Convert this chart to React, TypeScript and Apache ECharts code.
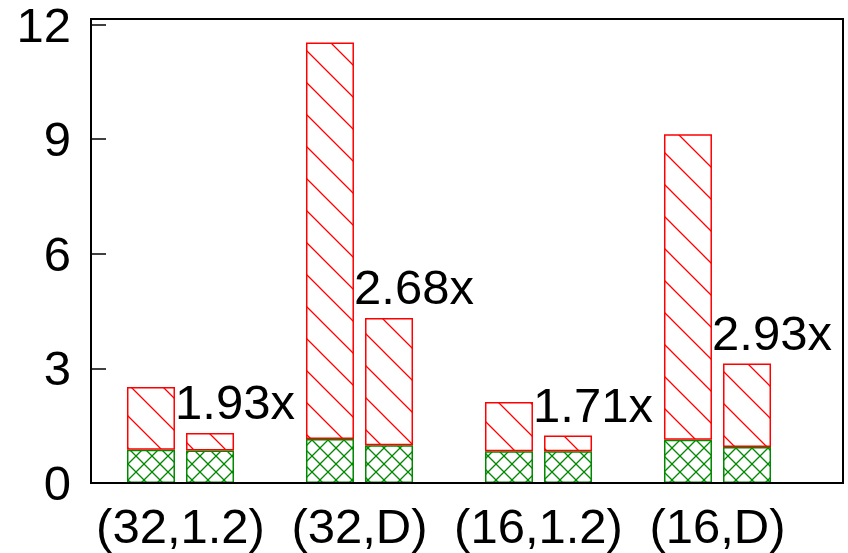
import React, { useEffect, useRef } from "react";
import * as echarts from "echarts";

const categories = ["(32,1.2)", "(32,D)", "(16,1.2)", "(16,D)"];
const baseA = [0.87, 1.15, 0.83, 1.13];
const extraA = [1.64, 10.38, 1.29, 8.0];
const baseB = [0.85, 0.99, 0.83, 0.94];
const extraB = [0.46, 3.33, 0.41, 2.19];
const ratioLabels = ["1.93x", "2.68x", "1.71x", "2.93x"];
const yTicks = { min: 0, max: 12, interval: 3 };

const FONT = "'Liberation Sans', Arial, sans-serif";
const RED = "#ff0000";
const GREEN = "#008800";

function makeDiag(size: number, color: string, cross: boolean, lw: number) {
  const c = document.createElement("canvas");
  c.width = size;
  c.height = size;
  const ctx = c.getContext("2d")!;
  ctx.fillStyle = "#ffffff";
  ctx.fillRect(0, 0, size, size);
  ctx.strokeStyle = color;
  ctx.lineWidth = lw;
  ctx.beginPath();
  ctx.moveTo(-2, -2);
  ctx.lineTo(size + 2, size + 2);
  ctx.moveTo(-2, size - 2);
  ctx.lineTo(2, size + 2);
  ctx.moveTo(size - 2, -2);
  ctx.lineTo(size + 2, 2);
  if (cross) {
    ctx.moveTo(size + 2, -2);
    ctx.lineTo(-2, size + 2);
    ctx.moveTo(2, -2);
    ctx.lineTo(-2, 2);
    ctx.moveTo(size + 2, size - 2);
    ctx.lineTo(size - 2, size + 2);
  }
  ctx.stroke();
  return {
    image: c.toDataURL(),
    repeat: "repeat",
    imageWidth: size,
    imageHeight: size,
  } as any;
}

export default function App() {
  const ref = useRef<HTMLDivElement>(null);
  useEffect(() => {
    if (!ref.current) return;
    document.body.style.overflow = "hidden";
    const chart = echarts.init(ref.current, undefined, { renderer: "svg" });
    const redPat = makeDiag(32, RED, false, 1.3);
    const greenPat = makeDiag(16, GREEN, true, 1.3);

    const greenStyle = { color: greenPat, borderColor: GREEN, borderWidth: 1.5 };
    const redStyle = { color: redPat, borderColor: RED, borderWidth: 1.5 };

    chart.setOption({
      animation: false,
      grid: [
        { left: 91, top: 19, right: 41, bottom: 70, show: false },
        {
          left: 91,
          top: 19,
          right: 5,
          bottom: 70,
          show: true,
          borderColor: "#000",
          borderWidth: 2,
          backgroundColor: "transparent",
          z: 10,
        },
      ],
      xAxis: [
        {
          type: "category",
          gridIndex: 0,
          data: categories,
          axisLine: { show: false },
          axisTick: { show: false },
          axisLabel: {
            fontSize: 49,
            fontFamily: FONT,
            color: "#000",
            margin: 18,
            interval: 0,
          },
        },
        { type: "value", gridIndex: 1, show: false },
      ],
      yAxis: [
        {
          type: "value",
          gridIndex: 0,
          min: yTicks.min,
          max: yTicks.max,
          interval: yTicks.interval,
          axisLine: { show: false },
          axisTick: { show: true, inside: true, length: 15, lineStyle: { color: "#000", width: 1.5 } },
          splitLine: { show: false },
          axisLabel: {
            fontSize: 49,
            fontFamily: FONT,
            color: "#000",
            margin: 20,
            lineHeight: 40,
            padding: [8, 0, 0, 0],
          },
        },
        { type: "value", gridIndex: 1, show: false },
      ],
      series: [
        { type: "bar", stack: "a", data: baseA, barWidth: 48, barGap: "23%", itemStyle: greenStyle },
        { type: "bar", stack: "a", data: extraA, barWidth: 48, itemStyle: redStyle },
        { type: "bar", stack: "b", data: baseB, barWidth: 48, barGap: "23%", itemStyle: greenStyle },
        {
          type: "bar",
          stack: "b",
          data: extraB,
          barWidth: 48,
          itemStyle: redStyle,
          label: {
            show: true,
            position: "top",
            distance: 2,
            offset: [25, -4],
            fontSize: 49,
            fontFamily: FONT,
            color: "#000",
            formatter: (p: any) => ratioLabels[p.dataIndex],
          },
        },
      ],
    });
    return () => chart.dispose();
  }, []);
  return (
    <div
      ref={ref}
      style={{ position: "absolute", left: 0, top: 0, width: 848, height: 553 }}
    />
  );
}
